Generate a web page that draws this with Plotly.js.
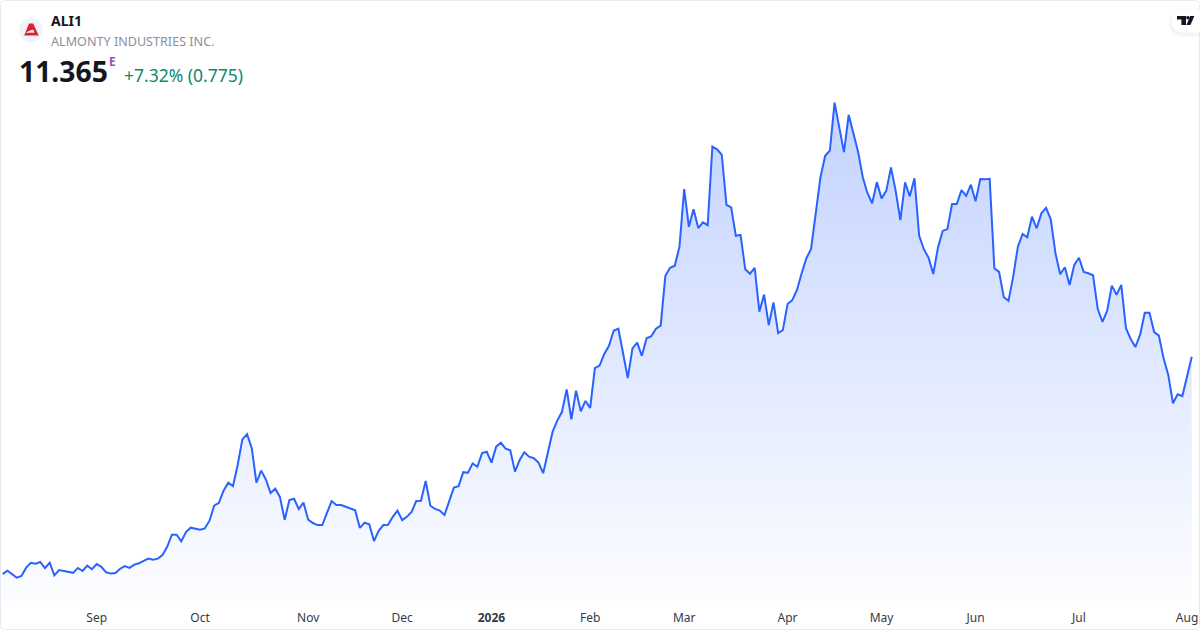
<!DOCTYPE html>
<html>
<head>
<meta charset="utf-8">
<script src="https://cdn.plot.ly/plotly-3.0.1.min.js"></script>
<style>html,body{margin:0;padding:0;background:#fff}#chart{width:1200px;height:630px}</style>
</head>
<body>
<div id="chart"></div>
<script>
// Closing price for each trading session
const closes = [
2.94,3.07,2.94,2.80,2.87,3.19,3.38,3.34,3.41,3.17,3.38,2.89,3.10,3.06,3.01,2.99,3.18,3.06,3.27,3.13,
3.33,3.22,3.01,2.96,2.98,3.15,3.25,3.18,3.31,3.36,3.45,3.54,3.50,3.54,3.68,4.00,4.47,4.47,4.21,4.57,
4.74,4.69,4.66,4.71,5.01,5.59,5.70,6.17,6.48,6.35,7.17,8.16,8.36,7.82,6.48,6.95,6.61,6.08,6.25,5.92,
5.04,5.81,5.86,5.46,5.71,5.05,4.92,4.84,4.84,5.31,5.77,5.62,5.62,5.55,5.47,5.41,4.73,4.93,4.87,4.22,
4.62,4.84,4.85,5.16,5.40,5.03,5.16,5.35,5.77,5.78,6.55,5.59,5.47,5.40,5.23,5.76,6.29,6.35,6.89,6.87,
7.23,7.10,7.63,7.68,7.26,7.88,8.03,7.80,7.74,6.91,7.36,7.66,7.49,7.43,7.26,6.85,7.59,8.45,8.89,9.23,
10.10,8.94,10.05,9.25,9.65,9.38,10.92,11.02,11.47,11.79,12.37,12.45,11.50,10.54,11.69,11.91,11.40,12.08,12.16,12.45,
12.57,14.50,14.81,14.89,15.63,17.86,16.40,17.08,16.35,16.57,16.46,19.50,19.40,19.19,17.25,17.15,16.05,16.08,14.75,14.58,
14.81,13.11,13.77,12.59,13.47,12.28,12.40,13.41,13.56,13.95,14.60,15.18,15.54,16.92,18.32,19.15,19.35,21.21,20.28,19.29,
20.74,20.02,19.31,18.32,17.70,17.31,18.13,17.50,17.79,18.70,17.79,16.66,18.12,17.58,18.28,16.05,15.53,15.20,14.57,15.60,
16.24,16.31,17.28,17.28,17.82,17.60,18.03,17.39,18.25,18.24,18.26,14.79,14.65,13.67,13.53,14.46,15.63,16.12,15.99,16.79,
16.34,16.92,17.13,16.69,15.37,14.56,14.83,14.14,14.92,15.20,14.65,14.60,14.52,13.21,12.71,13.15,14.12,13.76,14.15,12.47,
12.05,11.74,12.21,13.07,13.07,12.32,12.18,11.30,10.66,9.56,9.91,9.84,10.59,11.365
];
const tickSessions = [20,42,65,85,104,125,145,167,187,207,229,252];
const tickLabels = ['Sep','Oct','Nov','Dec','<b>2026</b>','Feb','Mar','Apr','May','Jun','Jul','Aug'];
const symbol = 'ALI1';
const companyName = 'ALMONTY INDUSTRIES INC.';
const lastPrice = '11.365';
const changeText = '+7.32% (0.775)';

const W = 1200, H = 630, plotH = 603;
const sessions = closes.map((_, i) => i);
const stepPx = 4.7, firstPx = 2.67;
const priceAtTop = 25.187, pricePerPx = 0.03875;
const priceAtBottom = priceAtTop - pricePerPx * plotH;

const px = x => x / W;
const py = y => 1 - y / plotH;
const pathOf = pts => 'M' + pts.map(p => px(p[0]) + ',' + py(p[1])).join('L') + 'Z';
const circle = (cx, cy, r) => {
  const pts = [];
  for (let a = 0; a < 48; a++) pts.push([cx + r * Math.cos(a * Math.PI / 24), cy + r * Math.sin(a * Math.PI / 24)]);
  return pathOf(pts);
};
const pill = (x0, y0, y1, grow) => {
  const r = (y1 - y0) / 2 + grow, cy = (y0 + y1) / 2, cx = x0 + r - grow, pts = [[1202, cy - r]];
  for (let a = -90; a >= -270; a -= 15) pts.push([cx + r * Math.cos(a * Math.PI / 180), cy + r * Math.sin(a * Math.PI / 180)]);
  pts.push([1202, cy + r]);
  return pathOf(pts);
};
const deco = (path, fill, extra) => Object.assign({
  type: 'path', xref: 'paper', yref: 'paper', path, fillcolor: fill, line: {width: 0}, layer: 'above'
}, extra || {});
const roundRect = (x0, y0, x1, y1, r) => {
  const pts = [];
  [[x1 - r, y0 + r, -90], [x1 - r, y1 - r, 0], [x0 + r, y1 - r, 90], [x0 + r, y0 + r, 180]].forEach(c => {
    for (let a = 0; a <= 90; a += 15) pts.push([c[0] + r * Math.cos((c[2] + a) * Math.PI / 180), c[1] + r * Math.sin((c[2] + a) * Math.PI / 180)]);
  });
  return pathOf(pts);
};

const shapes = [
  {type:'path', xref:'paper', yref:'paper', path: roundRect(0.5,0.5,1199.5,629.5,4), line:{color:'#e8eaf0', width:1}, fillcolor:'rgba(0,0,0,0)', layer:'above'},
  deco(pill(1171, 11, 34.5, 3), 'rgba(19,23,34,0.012)'),
  deco(pill(1171, 11, 34.5, 2), 'rgba(19,23,34,0.016)'),
  deco(pill(1171, 11, 34, 1), 'rgba(19,23,34,0.02)'),
  deco(pill(1171, 9.5, 32.5, 0), '#ffffff'),
  deco(pathOf([[1177,16],[1186,16],[1186,25],[1181.4,25],[1181.4,19.4],[1177,19.4]]), '#131722'),
  deco(circle(1187.9,17.7,1.7), '#131722'),
  deco(pathOf([[1190.2,16],[1194.4,16],[1190.4,25],[1186.4,25]]), '#131722'),
  deco(circle(31,30,12), '#f0f3fa'),
  deco(pathOf([[24.2,35.4],[29,23.6],[33.2,23.6],[38.7,35.4]]), '#e0202e'),
  deco(pathOf([[25.6,32.8],[34.4,32.8],[33.6,29.8],[30.4,30.2]]), '#f0f3fa')
];

const note = (text, x, y, size, color, anchor) => ({
  text, x: px(x), y: py(y), xref: 'paper', yref: 'paper', showarrow: false,
  xanchor: anchor || 'left', yanchor: 'middle', borderpad: 0,
  font: {family: '"Noto Sans", sans-serif', size, color}
});

const annotations = [
  note('<b>' + symbol + '</b>', 50, 21, 14, '#131722'),
  note(companyName, 50, 41, 12.6, '#8c8f98'),
  note('<b>' + lastPrice + '</b>', 17.5, 71, 28.3, '#131722'),
  note('<b>E</b>', 108, 62, 12, '#ab47bc'),
  note(changeText, 123, 75, 17.5, '#0b8a70')
];

Plotly.newPlot('chart', [{
  type: 'scatter', mode: 'lines', x: sessions, y: closes,
  line: {color: '#2962ff', width: 2, shape: 'linear'},
  fill: 'tozeroy',
  fillgradient: {
    type: 'vertical', start: priceAtBottom, stop: Math.max(...closes),
    colorscale: [[0, 'rgba(41,98,255,0.01)'], [1, 'rgba(41,98,255,0.28)']]
  },
  hoverinfo: 'skip'
}], {
  width: W, height: H, showlegend: false,
  margin: {l: 0, r: 0, t: 0, b: H - plotH, pad: 0},
  paper_bgcolor: '#ffffff', plot_bgcolor: '#ffffff',
  xaxis: {
    range: [-firstPx / stepPx, (W - firstPx) / stepPx], tickmode: 'array',
    tickvals: tickSessions, ticktext: tickLabels, ticks: '', showgrid: false, zeroline: false,
    showline: false, tickangle: 0, ticklabelstandoff: 6,
    tickfont: {family: '"Noto Sans", sans-serif', size: 12, color: '#363a45'}
  },
  yaxis: {range: [priceAtBottom, priceAtTop], showgrid: false, zeroline: false, showticklabels: false, ticks: '', showline: false},
  shapes, annotations
}, {displayModeBar: false, staticPlot: true});
</script>
</body>
</html>
